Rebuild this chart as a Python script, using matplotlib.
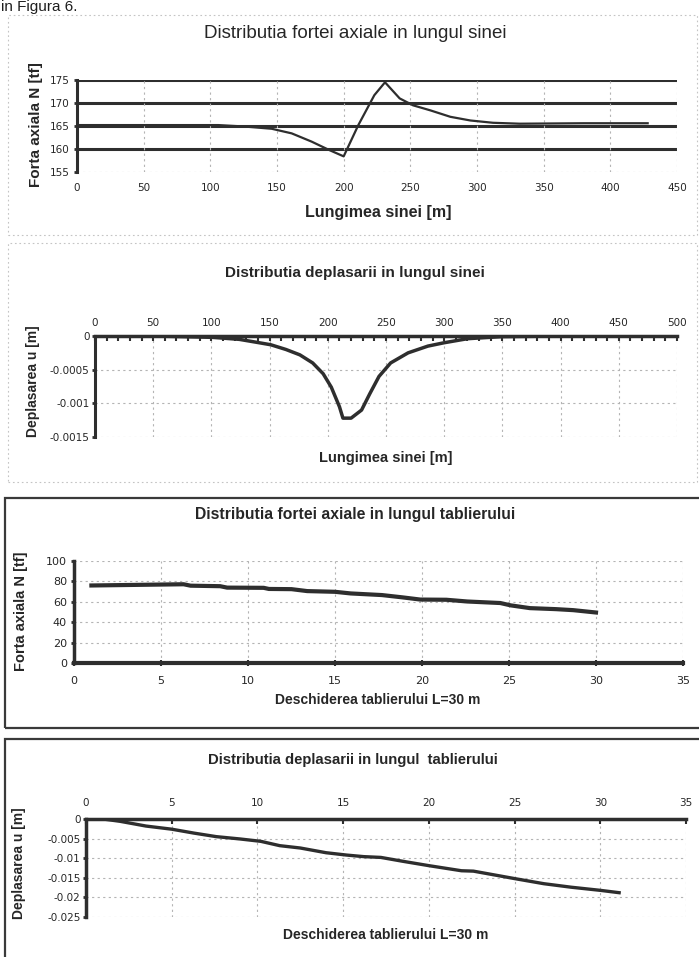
import matplotlib
matplotlib.use('Agg')
import matplotlib.pyplot as plt
from matplotlib.patches import Rectangle
from matplotlib.ticker import MultipleLocator

W, H = 699, 957

# ==========================================================
# 1. DATA
# ==========================================================
# axial force along the rail
rail_x = [0, 50, 106, 125, 146, 161, 176, 189, 200, 211, 223, 231, 242,
          252, 265, 280, 295, 312, 332, 380, 428]
rail_N = [165.2, 165.2, 165.2, 164.9, 164.4, 163.4, 161.6, 159.8, 158.4,
          165.2, 171.7, 174.5, 171.0, 169.5, 168.4, 167.0, 166.2, 165.7,
          165.5, 165.6, 165.6]
rail_xticks = [0, 50, 100, 150, 200, 250, 300, 350, 400, 450]
rail_Nticks = [155, 160, 165, 170, 175]

# displacement along the rail
disp_x = [0, 50, 101, 124, 141, 151, 164, 176, 187, 196, 203, 210, 213,
          220, 229, 236, 244, 254, 269, 286, 300, 320, 349, 400, 500]
disp_u = [0, 0, -0.00002, -0.00005, -0.0001, -0.00013, -0.0002, -0.00028,
          -0.0004, -0.00056, -0.00076, -0.00105, -0.00122, -0.00122,
          -0.0011, -0.00086, -0.0006, -0.0004, -0.00025, -0.00015, -0.0001,
          -0.00004, -0.00001, 0, 0]
disp_xticks = [0, 50, 100, 150, 200, 250, 300, 350, 400, 450, 500]
disp_uticks = [0, -0.0005, -0.001, -0.0015]
disp_ulabels = ['0', '-0.0005', '-0.001', '-0.0015']

# axial force along the deck
deck_x = [1, 6.3, 6.7, 8.4, 8.8, 10.9, 11.2, 12.5, 13.4, 15, 15.9, 17.7,
          18.9, 19.9, 21.4, 22.6, 24.5, 25.1, 26.2, 27.7, 28.7, 30]
deck_N = [76, 77.2, 75.8, 75.3, 73.9, 73.7, 72.6, 72.4, 70.5, 69.8, 68.2,
          66.6, 64.3, 62.2, 62.0, 60.3, 58.8, 56.5, 53.8, 52.8, 51.8, 49.5]
deck_xticks = [0, 5, 10, 15, 20, 25, 30, 35]
deck_Nticks = [0, 20, 40, 60, 80, 100]

# displacement along the deck
deckd_x = [0, 1, 2, 3.5, 5, 6.3, 7.6, 9, 10.2, 11.3, 12.5, 14, 15.2, 16.2,
           17.2, 18.5, 20, 21.9, 22.6, 25, 26.7, 28.3, 30, 31.1]
deckd_u = [0, 0, -0.0006, -0.0018, -0.0026, -0.0036, -0.0045, -0.0051,
           -0.0057, -0.0068, -0.0074, -0.0086, -0.0092, -0.0096, -0.0098,
           -0.0108, -0.0119, -0.0132, -0.0133, -0.0152, -0.0165, -0.0174,
           -0.0182, -0.0188]
deckd_xticks = [0, 5, 10, 15, 20, 25, 30, 35]
deckd_uticks = [0, -0.005, -0.01, -0.015, -0.02, -0.025]
deckd_ulabels = ['0', '-0.005', '-0.01', '-0.015', '-0.02', '-0.025']

# ==========================================================
# 2. STYLE HELPERS
# ==========================================================
DARK = '#2e2e2e'
GRID = '#b4b4b4'
TXT = '#262626'
plt.rcParams['font.family'] = 'DejaVu Sans'

fig = plt.figure(figsize=(W / 100, H / 100), dpi=100)
fig.patch.set_facecolor('white')


def fx(x):
    return x / W


def fy(y):
    return 1 - y / H


def axes_px(l, t, r, b):
    return fig.add_axes([l / W, 1 - b / H, (r - l) / W, (b - t) / H])


def label(x, y, s, size, bold=True, rot=0):
    fig.text(fx(x), fy(y), s, ha='center', va='center', fontsize=size,
             rotation=rot, color=TXT, family='Liberation Sans',
             fontweight='bold' if bold else 'normal')


def box(l, t, r, b, dotted):
    if dotted:
        rect = Rectangle((fx(l), fy(b)), (r - l) / W, (b - t) / H,
                         transform=fig.transFigure, fill=False,
                         ls=(0, (1.5, 2.5)), ec='#c4c4c4', lw=0.8)
    else:
        rect = Rectangle((fx(l), fy(b)), (r - l) / W, (b - t) / H,
                         transform=fig.transFigure, fill=False,
                         ec='#3a3a3a', lw=1.6)
    fig.add_artist(rect)


def light_grid(ax):
    ax.grid(True, ls=(0, (2, 3)), color=GRID, lw=0.8)
    ax.set_axisbelow(True)


# line of body text just above the first chart
fig.text(fx(1), fy(11), 'in Figura 6.', fontsize=11, va='baseline',
         color='#1e1e1e', family='Liberation Sans')

# panel frames
box(8, 15, 697, 235, True)
box(8, 243, 697, 482, True)
box(5, 498, 710, 728, False)
box(5, 739, 710, 970, False)

# ==========================================================
# 3. PANEL 1 - axial force in the rail
# ==========================================================
ax1 = axes_px(77, 80, 677, 172)
ax1.set_xlim(0, 450)
ax1.set_ylim(155, 175)
ax1.set_xticks(rail_xticks)
ax1.set_yticks(rail_Nticks)
for v in rail_Nticks[1:]:
    ax1.axhline(v, color=DARK, lw=2.2, zorder=1)
ax1.axhline(rail_Nticks[0], color=GRID, lw=0.8, ls=(0, (2, 3)))
ax1.xaxis.grid(True, ls=(0, (2, 3)), color=GRID, lw=0.8)
ax1.plot(rail_x, rail_N, color=DARK, lw=1.6, zorder=3)
for s in ['top', 'right', 'bottom']:
    ax1.spines[s].set_visible(False)
ax1.spines['left'].set_linewidth(2.2)
ax1.spines['left'].set_color(DARK)
ax1.tick_params(axis='x', length=0, pad=8, labelsize=7.5, labelcolor=TXT)
ax1.tick_params(axis='y', length=2, width=2, color=DARK, pad=3,
                labelsize=7.5, labelcolor=TXT)
label(355, 33, 'Distributia fortei axiale in lungul sinei', 13.5, bold=False)
label(378, 212, 'Lungimea sinei [m]', 11.5)
label(36, 125, 'Forta axiala N [tf]', 11, rot=90)

# ==========================================================
# 4. PANEL 2 - displacement in the rail
# ==========================================================
ax2 = axes_px(95, 336, 677, 437)
ax2.set_xlim(0, 500)
ax2.set_ylim(-0.0015, 0)
ax2.xaxis.tick_top()
ax2.set_xticks(disp_xticks)
ax2.xaxis.set_minor_locator(MultipleLocator(10))
ax2.set_yticks(disp_uticks)
ax2.set_yticklabels(disp_ulabels)
light_grid(ax2)
ax2.plot(disp_x, disp_u, color=DARK, lw=2.5, zorder=3)
for s in ['bottom', 'right']:
    ax2.spines[s].set_visible(False)
ax2.spines['top'].set_linewidth(2.5)
ax2.spines['left'].set_linewidth(2.2)
ax2.spines['top'].set_color(DARK)
ax2.spines['left'].set_color(DARK)
ax2.tick_params(axis='x', which='both', direction='in', length=3.5,
                width=1.5, color=DARK, pad=6, labelsize=7.5, labelcolor=TXT)
ax2.tick_params(axis='y', length=2, width=2, color=DARK, pad=2,
                labelsize=7.5, labelcolor=TXT)
label(355, 273, 'Distributia deplasarii in lungul sinei', 11)
label(386, 458, 'Lungimea sinei [m]', 10.5)
label(33, 381, 'Deplasarea u [m]', 10, rot=90)

# ==========================================================
# 5. PANEL 3 - axial force in the deck
# ==========================================================
ax3 = axes_px(74, 561, 683, 663)
ax3.set_xlim(0, 35)
ax3.set_ylim(0, 100)
ax3.set_xticks(deck_xticks)
ax3.set_yticks(deck_Nticks)
light_grid(ax3)
ax3.plot(deck_x, deck_N, color=DARK, lw=3, zorder=3)
for s in ['top', 'right']:
    ax3.spines[s].set_visible(False)
ax3.spines['bottom'].set_linewidth(3)
ax3.spines['left'].set_linewidth(2.5)
ax3.spines['bottom'].set_color(DARK)
ax3.spines['left'].set_color(DARK)
ax3.tick_params(axis='x', direction='inout', length=4, width=1.5,
                color=DARK, pad=7, labelsize=8, labelcolor=TXT)
ax3.tick_params(axis='y', length=2, width=2, color=DARK, pad=3,
                labelsize=8, labelcolor=TXT)
label(355, 515, 'Distributia fortei axiale in lungul tablierului', 11.3)
label(378, 700, 'Deschiderea tablierului L=30 m', 10)
label(21, 611, 'Forta axiala N [tf]', 10.5, rot=90)

# ==========================================================
# 6. PANEL 4 - displacement in the deck
# ==========================================================
ax4 = axes_px(86, 819, 686, 917)
ax4.set_xlim(0, 35)
ax4.set_ylim(-0.025, 0)
ax4.xaxis.tick_top()
ax4.set_xticks(deckd_xticks)
ax4.set_yticks(deckd_uticks)
ax4.set_yticklabels(deckd_ulabels)
light_grid(ax4)
ax4.plot(deckd_x, deckd_u, color=DARK, lw=2.4, zorder=3)
for s in ['bottom', 'right']:
    ax4.spines[s].set_visible(False)
ax4.spines['top'].set_linewidth(2.5)
ax4.spines['left'].set_linewidth(2.5)
ax4.spines['top'].set_color(DARK)
ax4.spines['left'].set_color(DARK)
ax4.tick_params(axis='x', direction='in', length=3.5, width=1.5,
                color=DARK, pad=8, labelsize=7.5, labelcolor=TXT)
ax4.tick_params(axis='y', length=2, width=2, color=DARK, pad=2,
                labelsize=7.5, labelcolor=TXT)
label(353, 760, 'Distributia deplasarii in lungul  tablierului', 10.7)
label(386, 935, 'Deschiderea tablierului L=30 m', 10)
label(19, 863, 'Deplasarea u [m]', 10, rot=90)

fig.savefig('out.png', dpi=100, facecolor='white')
